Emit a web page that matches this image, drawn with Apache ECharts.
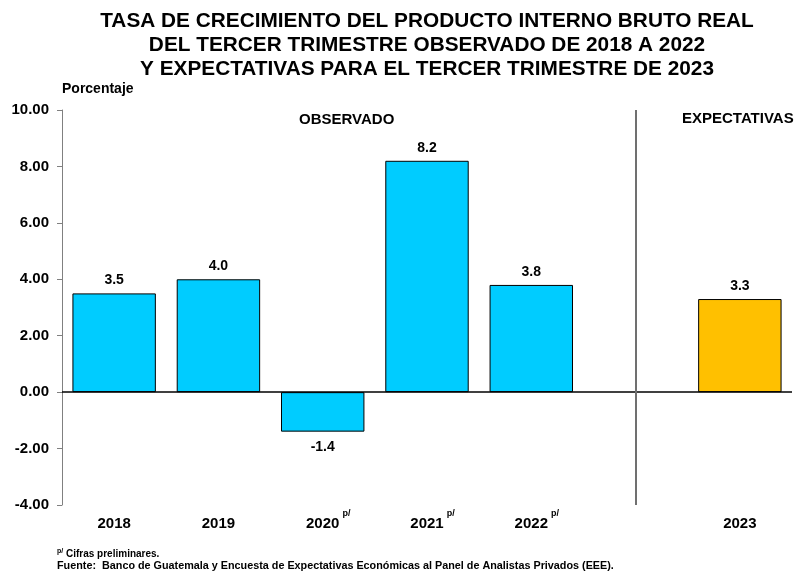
<!DOCTYPE html>
<html>
<head>
<meta charset="utf-8">
<script src="https://cdn.jsdelivr.net/npm/echarts@6/dist/echarts.min.js"></script>
<style>html,body{margin:0;padding:0;background:#fff}#c{width:796px;height:577px}</style>
</head>
<body>
<div id="c"></div>
<script>
var categories = ['2018', '2019', '2020', '2021', '2022', '', '2023'];
var preliminary = ['2020', '2021', '2022'];
var values = [3.5, 4.0, -1.4, 8.2, 3.8, null, 3.3];
var barColors = ['#00CCFF', '#00CCFF', '#00CCFF', '#00CCFF', '#00CCFF', '#00CCFF', '#FFC000'];
var yTicks = { min: -4, max: 10, interval: 2 };
var separatorIndex = 5;
var titleText = 'TASA DE CRECIMIENTO DEL PRODUCTO INTERNO BRUTO REAL\nDEL TERCER TRIMESTRE OBSERVADO DE 2018 A 2022\nY EXPECTATIVAS PARA EL TERCER TRIMESTRE DE 2023';

var FONT = '"Liberation Sans", Arial, sans-serif';
var chart = echarts.init(document.getElementById('c'), null, { renderer: 'canvas' });

var data = values.map(function (v, i) {
  var d = { value: v, itemStyle: { color: barColors[i] } };
  if (v != null && v < 0) d.label = { position: 'bottom', distance: 8 };
  return d;
});

chart.setOption({
  animation: false,
  backgroundColor: '#ffffff',
  title: {
    text: titleText,
    left: 422, top: 4, textAlign: 'center',
    textStyle: { fontFamily: FONT, fontWeight: 'bold', fontSize: 20.8, lineHeight: 24, color: '#000' }
  },
  grid: { left: 62, right: 4, top: 110, bottom: 72 },
  xAxis: {
    type: 'category',
    data: categories,
    axisLine: { show: false },
    axisTick: { show: false },
    axisLabel: {
      margin: 8,
      interval: 0,
      fontFamily: FONT, fontWeight: 'bold', fontSize: 15, color: '#000',
      formatter: function (v) {
        return preliminary.indexOf(v) >= 0 ? '{ghost|p/}{num|' + v + '}{sup|p/}' : '{num|' + v + '}';
      },
      rich: {
        num: { fontFamily: FONT, fontSize: 15, fontWeight: 'bold', color: '#000', lineHeight: 18, verticalAlign: 'bottom' },
        sup: { fontFamily: FONT, fontSize: 9, fontWeight: 'bold', color: '#000', verticalAlign: 'bottom', padding: [0, 0, 13, 3], lineHeight: 10 },
        ghost: { fontFamily: FONT, fontSize: 9, fontWeight: 'bold', color: 'rgba(0,0,0,0)', verticalAlign: 'bottom', padding: [0, 3, 13, 0], lineHeight: 10 }
      }
    }
  },
  yAxis: {
    type: 'value',
    min: yTicks.min, max: yTicks.max, interval: yTicks.interval,
    name: 'Porcentaje',
    nameLocation: 'end',
    nameGap: 14,
    nameTextStyle: { fontFamily: FONT, fontWeight: 'bold', fontSize: 14, color: '#000', align: 'left' },
    axisLine: { show: true, lineStyle: { color: '#808080', width: 1 } },
    axisTick: { show: true, length: 5, lineStyle: { color: '#808080' } },
    splitLine: { show: false },
    axisLabel: {
      margin: 13,
      fontFamily: FONT, fontWeight: 'bold', fontSize: 15, color: '#000',
      formatter: function (v) { return v.toFixed(2); }
    }
  },
  series: [{
    type: 'bar',
    data: data,
    barCategoryGap: '20%',
    itemStyle: { borderColor: '#000', borderWidth: 1 },
    label: {
      show: true,
      fontFamily: FONT, fontWeight: 'bold', fontSize: 14, color: '#000',
      distance: 6,
      position: 'top',
      formatter: function (p) { return p.value == null ? '' : p.value.toFixed(1); }
    },
    markLine: {
      silent: true,
      symbol: 'none',
      label: { show: false },
      data: [
        { yAxis: 0, lineStyle: { color: '#000', width: 1.5, type: 'solid' } },
        { xAxis: separatorIndex, lineStyle: { color: '#707070', width: 2, type: 'solid' } }
      ]
    }
  }],
  graphic: [
    { type: 'text', left: 299, top: 112, style: { text: 'OBSERVADO', font: 'bold 15px ' + FONT, fill: '#000' } },
    { type: 'text', left: 682, top: 111, style: { text: 'EXPECTATIVAS', font: 'bold 15px ' + FONT, fill: '#000' } },
    { type: 'text', left: 57, top: 548, style: { text: 'p/', font: 'bold 7px ' + FONT, fill: '#000' } },
    { type: 'text', left: 66, top: 549, style: { text: 'Cifras preliminares.', font: 'bold 10px ' + FONT, fill: '#000' } },
    { type: 'text', left: 57, top: 561, style: { text: 'Fuente:  Banco de Guatemala y Encuesta de Expectativas Económicas al Panel de Analistas Privados (EEE).', font: 'bold 10.8px ' + FONT, fill: '#000' } }
  ]
});
</script>
</body>
</html>
